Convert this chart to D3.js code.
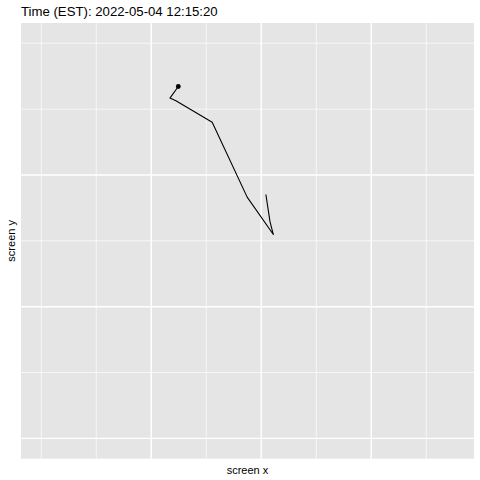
<!DOCTYPE html>
<html>
<head>
<meta charset="utf-8">
<script src="https://d3js.org/d3.v7.min.js"></script>
<style>
  body { margin: 0; background: #fff; }
  text { font-family: "Liberation Sans", Arial, sans-serif; }
</style>
</head>
<body>
<script>
// gaze trace, screen pixel coords (y grows downward)
var screenX = [1021, 1040, 1055, 936, 777, 612, 585, 623];
var screenY = [287, 339, 363, 292, 150, 109, 104, 82];
var xMajor = [500, 1000, 1500];
var xMinor = [0, 250, 750, 1250, 1750];
var yMajor = [250, 500, 750];
var yMinor = [0, 125, 375, 625];
var title = "Time (EST): 2022-05-04 12:15:20";

var W = 480, H = 480;
var panel = {left: 21, right: 474, top: 23, bottom: 458.7};

var svg = d3.select("body").append("svg")
    .attr("width", W)
    .attr("height", H);

var x = d3.scaleLinear().domain([-92, 1967]).range([panel.left, panel.right]);
var y = d3.scaleLinear().domain([-38.5, 788.5]).range([panel.top, panel.bottom]);

svg.append("rect")
    .attr("x", panel.left).attr("y", panel.top)
    .attr("width", panel.right - panel.left)
    .attr("height", panel.bottom - panel.top)
    .attr("fill", "#E5E5E5");

var grid = svg.append("g");
// minor grid
grid.selectAll(".vmin").data(xMinor).enter().append("line")
    .attr("x1", d => x(d)).attr("x2", d => x(d))
    .attr("y1", panel.top).attr("y2", panel.bottom)
    .attr("stroke", "#fff").attr("stroke-width", 0.7);
grid.selectAll(".hmin").data(yMinor).enter().append("line")
    .attr("y1", d => y(d)).attr("y2", d => y(d))
    .attr("x1", panel.left).attr("x2", panel.right)
    .attr("stroke", "#fff").attr("stroke-width", 0.7);
// major grid
grid.selectAll(".vmaj").data(xMajor).enter().append("line")
    .attr("x1", d => x(d)).attr("x2", d => x(d))
    .attr("y1", panel.top).attr("y2", panel.bottom)
    .attr("stroke", "#fff").attr("stroke-width", 1.4);
grid.selectAll(".hmaj").data(yMajor).enter().append("line")
    .attr("y1", d => y(d)).attr("y2", d => y(d))
    .attr("x1", panel.left).attr("x2", panel.right)
    .attr("stroke", "#fff").attr("stroke-width", 1.4);

var pts = screenX.map((v, i) => [v, screenY[i]]);

svg.append("path")
    .datum(pts)
    .attr("fill", "none")
    .attr("stroke", "#000")
    .attr("stroke-width", 1.1)
    .attr("stroke-linejoin", "round")
    .attr("d", d3.line().x(d => x(d[0])).y(d => y(d[1])));

var last = pts[pts.length - 1];
svg.append("circle")
    .attr("cx", x(last[0])).attr("cy", y(last[1]))
    .attr("r", 2.4).attr("fill", "#000");

svg.append("text")
    .attr("x", panel.left).attr("y", 15.5)
    .attr("font-size", 13.2).attr("fill", "#000")
    .text(title);

svg.append("text")
    .attr("x", (panel.left + panel.right) / 2).attr("y", 473.5)
    .attr("text-anchor", "middle")
    .attr("font-size", 11).attr("fill", "#000")
    .text("screen x");

svg.append("text")
    .attr("transform", "translate(15," + ((panel.top + panel.bottom) / 2) + ") rotate(-90)")
    .attr("text-anchor", "middle")
    .attr("font-size", 11).attr("fill", "#000")
    .text("screen y");
</script>
</body>
</html>
